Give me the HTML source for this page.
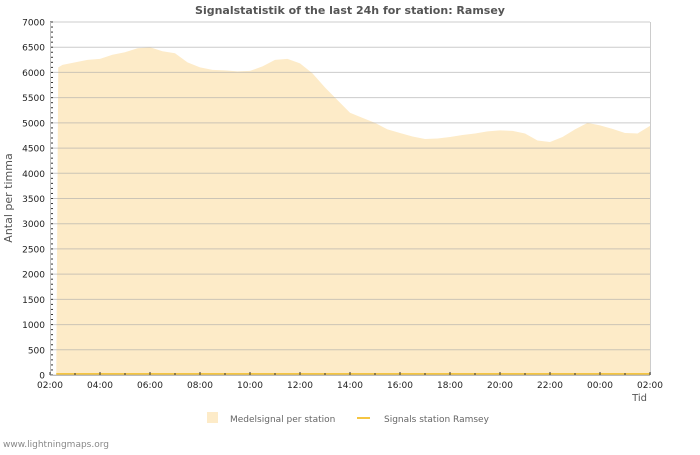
<!DOCTYPE html>
<html><head><meta charset="utf-8"><style>
body{margin:0;background:#fff;width:700px;height:450px;overflow:hidden}
text{font-family:"DejaVu Sans","Liberation Sans",sans-serif}
</style></head><body>
<svg id="c" width="700" height="450" xmlns="http://www.w3.org/2000/svg">
<text x="350" y="14" text-anchor="middle" font-size="11" font-weight="bold" fill="#555">Signalstatistik of the last 24h for station: Ramsey</text>
<g id="area"></g>
<g id="grid"></g>
<g id="axes"></g>
<text x="12" y="198" font-size="11" fill="#555" text-anchor="middle" transform="rotate(-90 12 198)">Antal per timma</text>
<text x="647" y="401" font-size="10" fill="#555" text-anchor="end">Tid</text>
<rect x="207" y="412" width="11" height="11" fill="#fdebc8"/>
<text x="230" y="422" font-size="9" fill="#666">Medelsignal per station</text>
<line x1="357" y1="418" x2="370" y2="418" stroke="#f5c542" stroke-width="2"/>
<text x="384" y="422" font-size="9" fill="#666">Signals station Ramsey</text>
<text x="3" y="447" font-size="9" fill="#888">www.lightningmaps.org</text>
</svg>
<script>
const hours=[0.25,0.33,0.5,1,1.5,2,2.5,3,3.5,4,4.5,5,5.5,6,6.5,7,7.5,8,8.5,9,9.5,10,10.5,11,11.5,12,12.5,13,13.5,14,14.5,15,15.5,16,16.5,17,17.5,18,18.5,19,19.5,20,20.5,21,21.5,22,22.5,23,23.5,24];
const meanSignal=[0,6100,6150,6200,6250,6270,6350,6400,6480,6500,6420,6380,6200,6100,6050,6040,6020,6030,6120,6250,6270,6180,5980,5700,5450,5200,5100,5000,4870,4800,4730,4680,4690,4720,4760,4790,4830,4850,4840,4790,4650,4620,4720,4870,5000,4950,4880,4800,4790,4940];
const yTicks=[0,500,1000,1500,2000,2500,3000,3500,4000,4500,5000,5500,6000,6500,7000];
const xLabels=["02:00","04:00","06:00","08:00","10:00","12:00","14:00","16:00","18:00","20:00","22:00","00:00","02:00"];
const X0=50,X1=650,Y0=375,Y1=22,NS="http://www.w3.org/2000/svg";
const sx=h=>X0+h/24*(X1-X0), sy=v=>Y0-v/7000*(Y0-Y1);
function mk(t,a,p){const e=document.createElementNS(NS,t);for(const k in a)e.setAttribute(k,a[k]);p.appendChild(e);return e;}
const grid=document.getElementById('grid'),axes=document.getElementById('axes'),area=document.getElementById('area');
yTicks.forEach(v=>{
 const l=mk('line',{x1:X0,x2:X1,y1:sy(v),y2:sy(v),stroke:'#aaa','stroke-opacity':0.6,'stroke-width':1},grid);
 
 
 const t=mk('text',{x:45,y:sy(v)+3.5,'font-size':9,'text-anchor':'end',fill:'#222'},axes);
 t.textContent=v;
 
 
});
for(let v=0;v<=7000;v+=100){const l=mk('line',{x1:X0,x2:X0+3,y1:sy(v),y2:sy(v),stroke:'#333','stroke-width':1},axes);
 
 }
let d='M'+sx(hours[0])+','+sy(0);
hours.forEach((h,i)=>{d+=' L'+sx(h)+','+sy(meanSignal[i]);});
d+=' L'+sx(hours[hours.length-1])+','+sy(0)+' Z';
const p=mk('path',{d:d,fill:'#fdebc8'},area);


const sl=mk('line',{x1:sx(0.25),x2:X1,y1:Y0-1,y2:Y0-1,stroke:'#f5c542','stroke-width':2},area);


const xa=mk('line',{x1:X0,x2:X1,y1:Y0+0.5,y2:Y0+0.5,stroke:'#bbb'},axes);


const ya=mk('line',{x1:X0+0.5,x2:X0+0.5,y1:Y1,y2:Y0,stroke:'#bbb'},axes);


const ra=mk('line',{x1:X1+0.5,x2:X1+0.5,y1:Y1,y2:Y0,stroke:'#ccc'},axes);


for(let h=0;h<=24;h++){const l=mk('line',{x1:sx(h),x2:sx(h),y1:Y0,y2:Y0-(h%2?2:3),stroke:'#333'},axes);
 
 }
xLabels.forEach((s,i)=>{const t=mk('text',{x:sx(i*2),y:Y0+13,'font-size':9,'text-anchor':'middle',fill:'#222'},axes);
 t.textContent=s;
 
 });
</script>
</body></html>
